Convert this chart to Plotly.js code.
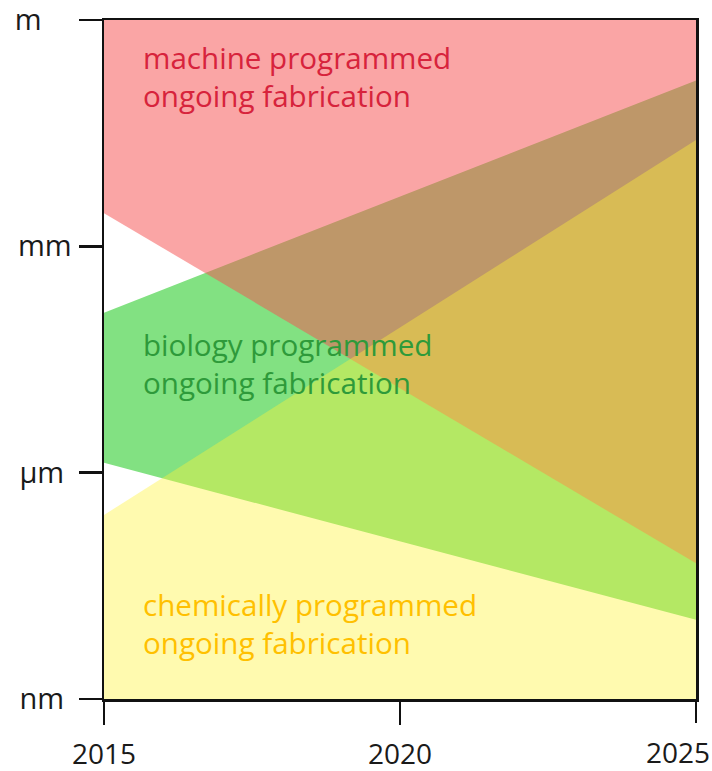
<!DOCTYPE html>
<html>
<head>
<meta charset="utf-8">
<script src="https://cdn.plot.ly/plotly-3.0.1.min.js"></script>
<style>html,body{margin:0;padding:0;background:#fff;}#chart{width:712px;height:771px;}</style>
</head>
<body>
<div id="chart"></div>
<script>
// Years (x) and sizes in metres (y, log scale)
const tickSizes = [1, 1e-3, 1e-6, 1e-9];
const tickLabels = ['m\u00a0\u00a0\u00a0\u00a0', 'mm', '\u00b5m\u00a0', 'nm\u00a0'];
const xTicks = [2015, 2020, 2025];
const xTickLabels = ['2015', '2020', '2025'];

// Polygon corners (size ranges at start and end year)
const machineYears = [2015, 2025, 2025, 2015];
const machineSizes = [1, 1, 6.3e-8, 2.75e-3];

const biologyYears = [2015, 2025, 2025, 2015];
const biologySizes = [1.32e-4, 0.158, 1.12e-8, 1.35e-6];

const chemicalYears = [2015, 2025, 2025, 2015];
const chemicalSizes = [1e-9, 1e-9, 2.57e-2, 2.75e-7];

const labelMachine = 'machine programmed<br>ongoing fabrication';
const labelBiology = 'biology programmed<br>ongoing fabrication';
const labelChemical = 'chemically programmed<br>ongoing fabrication';

const font = '"Open Sans", "DejaVu Sans", sans-serif';

const traces = [
  {x: biologyYears, y: biologySizes, type: 'scatter', mode: 'none', fill: 'toself',
   fillcolor: 'rgb(130,225,130)', hoverinfo: 'skip', showlegend: false},
  {x: machineYears, y: machineSizes, type: 'scatter', mode: 'none', fill: 'toself',
   fillcolor: 'rgba(245,82,82,0.52)', hoverinfo: 'skip', showlegend: false},
  {x: chemicalYears, y: chemicalSizes, type: 'scatter', mode: 'none', fill: 'toself',
   fillcolor: 'rgba(255,242,55,0.4)', hoverinfo: 'skip', showlegend: false},
  // empty trace so the overlay axis carrying the last year label is drawn
  {x: [], y: [], xaxis: 'x2', type: 'scatter', mode: 'none', hoverinfo: 'skip', showlegend: false}
];

const tickStyle = {
  ticks: 'outside', ticklen: 23, tickwidth: 2.5, tickcolor: '#111',
  showgrid: false, zeroline: false, layer: 'above traces', ticklabeloverflow: 'allow'
};

const layout = {
  width: 712, height: 771,
  margin: {l: 104, r: 16, t: 20, b: 72},
  paper_bgcolor: '#fff', plot_bgcolor: '#fff',
  showlegend: false,
  xaxis: Object.assign({}, tickStyle, {
    range: [2015, 2025], tickvals: xTicks.slice(0, 2), ticktext: xTickLabels.slice(0, 2),
    showline: true, linecolor: '#111', linewidth: 2.5, mirror: true,
    tickfont: {family: font, size: 28, color: '#1a1a1a'}, ticklabelstandoff: 6
  }),
  xaxis2: Object.assign({}, tickStyle, {
    overlaying: 'x', anchor: 'y', side: 'bottom',
    range: [2015, 2025], tickvals: xTicks.slice(2), ticktext: xTickLabels.slice(2),
    showline: false, ticklabelshift: -18,
    tickfont: {family: font, size: 28, color: '#1a1a1a'}, ticklabelstandoff: 6
  }),
  yaxis: Object.assign({}, tickStyle, {
    type: 'log', range: [-9, 0], tickvals: tickSizes, ticktext: tickLabels,
    showline: true, linecolor: '#111', linewidth: 2.5, mirror: true,
    tickfont: {family: font, size: 29, color: '#1a1a1a'}, ticklabelstandoff: 1
  }),
  annotations: [
    {xref: 'paper', yref: 'paper', x: 0.062, y: 0.9175, xanchor: 'left', yanchor: 'middle',
     align: 'left', showarrow: false, text: labelMachine,
     font: {family: font, size: 29.6, color: '#d7233c'}},
    {xref: 'paper', yref: 'paper', x: 0.062, y: 0.494, xanchor: 'left', yanchor: 'middle',
     align: 'left', showarrow: false, text: labelBiology,
     font: {family: font, size: 29.6, color: '#2e9a3a'}},
    {xref: 'paper', yref: 'paper', x: 0.062, y: 0.111, xanchor: 'left', yanchor: 'middle',
     align: 'left', showarrow: false, text: labelChemical,
     font: {family: font, size: 29.6, color: '#ffc000'}}
  ]
};

Plotly.newPlot('chart', traces, layout, {displayModeBar: false, staticPlot: true});
</script>
</body>
</html>
